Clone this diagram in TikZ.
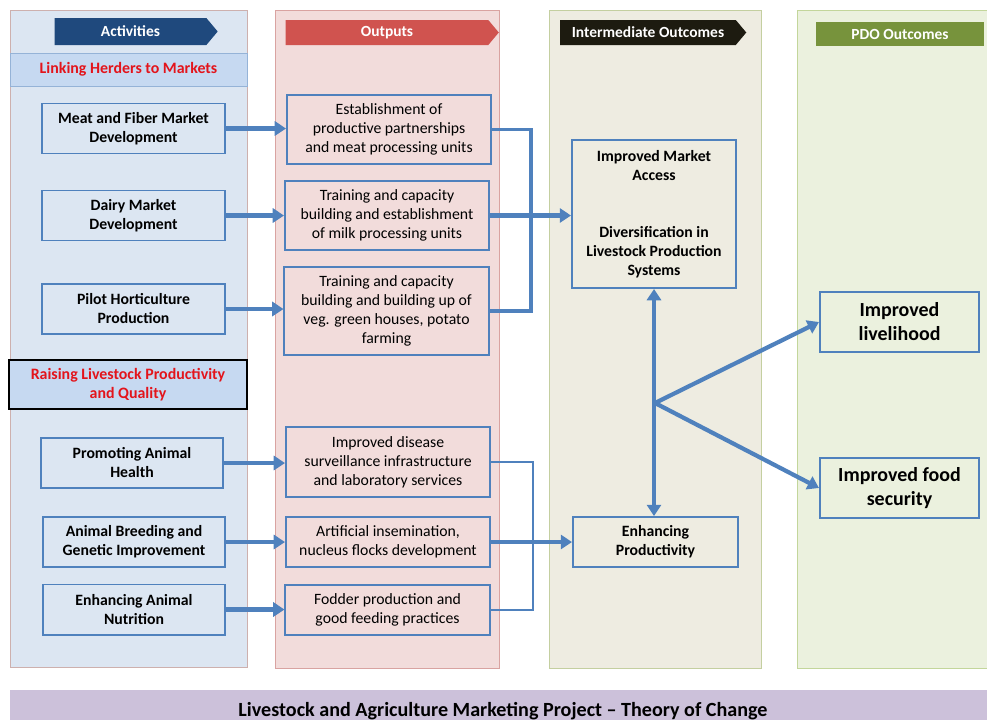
\documentclass[tikz,border=0pt]{standalone}
\usepackage{fontspec}
\setmainfont{Carlito}
\usepackage{xcolor}
\usetikzlibrary{arrows.meta}
\usetikzlibrary{shapes.symbols}

\definecolor{actfill}{HTML}{DCE6F2}
\definecolor{actline}{HTML}{CDB0AE}
\definecolor{bandfill}{HTML}{C6D9F1}
\definecolor{bandline}{HTML}{95B3D7}
\definecolor{outfill}{HTML}{F2DCDB}
\definecolor{outline}{HTML}{D9A3A1}
\definecolor{imfill}{HTML}{EEECE1}
\definecolor{imline}{HTML}{C4CFA0}
\definecolor{pdofill}{HTML}{EBF1DE}
\definecolor{pdoline}{HTML}{C3D69B}
\definecolor{boxblue}{HTML}{4F81BD}
\definecolor{acthead}{HTML}{1F497D}
\definecolor{outhead}{HTML}{D0534F}
\definecolor{imhead}{HTML}{1D1B10}
\definecolor{pdohead}{HTML}{77933C}
\definecolor{titlebar}{HTML}{CCC1DA}
\definecolor{bandred}{HTML}{E3141B}

\begin{document}
\begin{tikzpicture}[x=0.025cm, y=-0.025cm,
  box/.style={draw=boxblue, line width=1.4pt, align=center, inner sep=2pt, font=\fontsize{11.2}{13.5}\selectfont},
  actbox/.style={box, font=\bfseries\fontsize{11.2}{13.5}\selectfont, minimum width=4.55cm, minimum height=1.25cm},
  outbox/.style={box, minimum width=5.1cm, minimum height=1.25cm},
  pdobox/.style={box, font=\bfseries\fontsize{14.2}{17}\selectfont, minimum width=3.975cm, minimum height=1.5cm},
  band/.style={fill=bandfill, draw=bandline, text=bandred, align=center, font=\bfseries\fontsize{11.3}{13.5}\selectfont},
  head/.style={signal, signal to=east, signal from=nowhere, signal pointer angle=100, text=white, inner sep=0pt, font=\bfseries\fontsize{11}{12}\selectfont},
  flow/.style={draw=boxblue, line width=3pt, -{Triangle[length=8pt,width=10pt]}},
  bus/.style={draw=boxblue, line width=2.4pt},
  thinbus/.style={draw=boxblue, line width=1.5pt}]
  \useasboundingbox (0,0) rectangle (987,719);
  \clip (0,0) rectangle (987,719);
  % columns
  \filldraw[fill=actfill, draw=actline] (10,10) rectangle (247,667);
  \filldraw[fill=outfill, draw=outline] (275,10) rectangle (499,668);
  \filldraw[fill=imfill, draw=imline] (549,10) rectangle (761,668);
  \filldraw[fill=pdofill, draw=pdoline] (797,10) rectangle (995,668);
  \fill[titlebar] (10,690) rectangle (995,725);
  % headers
  \node[head, fill=acthead, minimum width=4.075cm, minimum height=0.675cm] (acth) at (130.5,31.5) {Activities};
  \node[head, fill=outhead, minimum width=5.325cm, minimum height=0.625cm] (outh) at (387,32.5) {Outputs};
  \node[head, fill=imhead, minimum width=4.65cm, minimum height=0.625cm] (imh) at (648,32.5) {Intermediate Outcomes};
  \node[fill=pdohead, text=white, inner sep=0pt, font=\bfseries\fontsize{11}{12}\selectfont, minimum width=4.2cm, minimum height=0.6cm] (pdoh) at (900,34) {PDO Outcomes};
  \node[band, minimum width=5.925cm, minimum height=0.825cm] (link) at (128.5,69.5) {Linking Herders to Markets};
  \node[band, draw=black, line width=1.4pt, minimum width=5.95cm, minimum height=1.225cm] (raise) at (128,384.5) {Raising Livestock Productivity\\and Quality};
  % activities
  \node[actbox] (meat) at (133.5,128.5) {Meat and Fiber Market\\Development};
  \node[actbox] (dairy) at (133.5,215.5) {Dairy Market\\Development};
  \node[actbox] (pilot) at (133.5,309) {Pilot Horticulture\\Production};
  \node[actbox] (health) at (132,463) {Promoting Animal\\Health};
  \node[actbox] (breed) at (134,542) {Animal Breeding and\\Genetic Improvement};
  \node[actbox] (nutri) at (134,609.5) {Enhancing Animal\\Nutrition};
  % outputs
  \node[outbox, minimum height=1.725cm] (o1) at (389,129.5) {Establishment of\\productive partnerships\\and meat processing units};
  \node[outbox, minimum height=1.725cm] (o2) at (387,215.5) {Training and capacity\\building and establishment\\of milk processing units};
  \node[outbox, minimum height=2.2cm] (o3) at (386.5,311) {Training and capacity\\building and building up of\\veg. green houses, potato\\farming};
  \node[outbox, minimum height=1.75cm] (o4) at (388,462) {Improved disease\\surveillance infrastructure\\and laboratory services};
  \node[outbox] (o5) at (388,542) {Artificial insemination,\\nucleus flocks development};
  \node[outbox] (o6) at (387.5,610) {Fodder production and\\good feeding practices};
  % intermediate and PDO outcomes
  \node[box, font=\bfseries\fontsize{11.2}{13.5}\selectfont, minimum width=4.1cm, minimum height=3.7cm] (market) at (654,214) {Improved Market\\Access\\[27pt]Diversification in\\Livestock Production\\Systems};
  \node[box, font=\bfseries\fontsize{11.2}{13.5}\selectfont, minimum width=4.125cm, minimum height=1.25cm] (enh) at (655.5,542) {Enhancing\\Productivity};
  \node[pdobox] (live) at (899.5,322) {Improved\\livelihood};
  \node[pdobox] (food) at (899.5,488) {Improved food\\security};
  \node[anchor=base, font=\bfseries\fontsize{14.3}{16}\selectfont] (title) at (503,716) {Livestock and Agriculture Marketing Project -- Theory of Change};
  % links
  \foreach \a/\b in {meat/o1, dairy/o2, pilot/o3, health/o4, breed/o5, nutri/o6}
    \draw[flow] (\a.east) -- (\a.east -| \b.west);
  \coordinate (upbus) at (531,215);
  \coordinate (lowbus) at (533,543);
  \coordinate (hub) at (655,403);
  \draw[bus] (o1.east) -| (upbus) |- (o3.east);
  \draw[flow] (o2.east) -- (o2.east -| market.west);
  \draw[thinbus] (o4.east) -| (lowbus) |- (o6.east);
  \draw[flow] (o5.east) -- (o5.east -| enh.west);
  \draw[flow, line width=2.4pt, {Triangle[length=8pt,width=10pt]}-{Triangle[length=8pt,width=10pt]}] (market.south) -- (market.south |- enh.north);
  \draw[flow] (hub) -- (live.west);
  \draw[flow] (hub) -- (food.west);
\end{tikzpicture}
\end{document}
